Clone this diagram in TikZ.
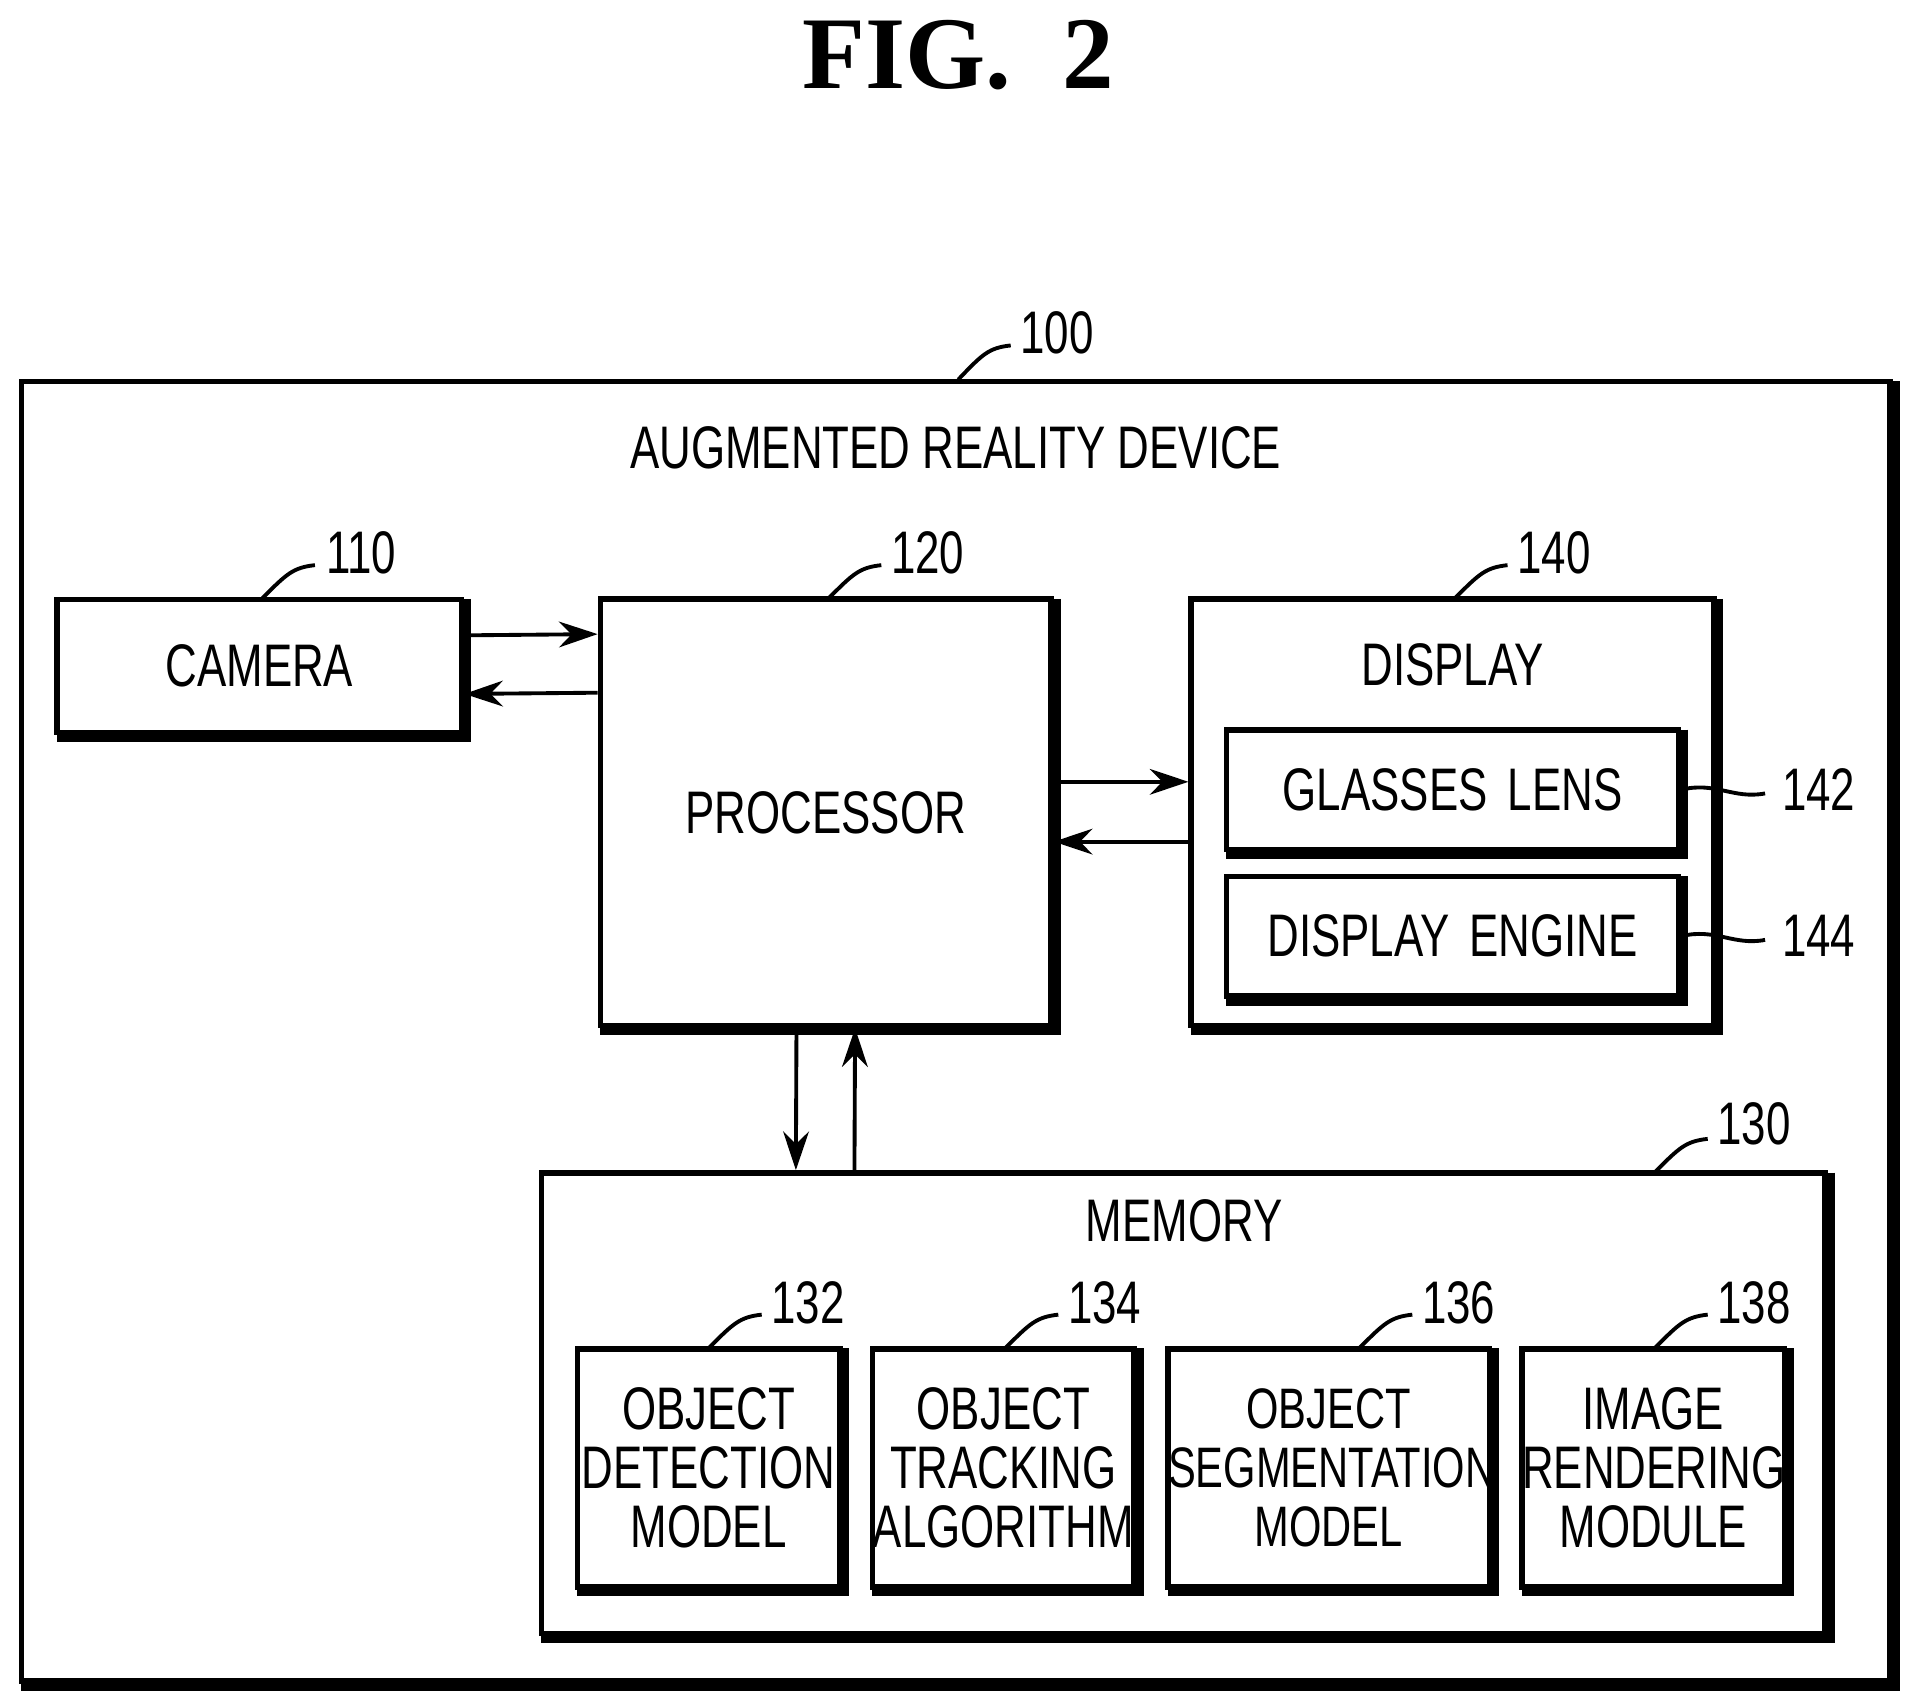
\documentclass[tikz,border=0pt]{standalone}
\usepackage{fontspec}
\setmainfont[FakeStretch=0.73]{Liberation Sans}
\newfontfamily\figfont{Liberation Serif}
\usetikzlibrary{calc, positioning, arrows.meta}

\tikzset{
  blk/.style={draw, line width=1.3pt, align=center, inner sep=0pt,
    font=\fontsize{14}{13.8}\selectfont},
  arr/.style={-{Stealth[length=9pt,width=6pt]}, line width=0.9pt},
  lead/.style={line width=0.9pt},
  num/.style={font=\fontsize{14}{16}\selectfont, inner sep=1pt}
}

\newcommand{\shadowbox}[1]{%
  \draw[line width=2pt] ($(#1.north east)+(2,2)$) -- ($(#1.south east)+(2,2)$) -- ($(#1.south west)+(2,2)$);}

\begin{document}
\begin{tikzpicture}[x=0.01cm,y=-0.01cm]
  \useasboundingbox (0,0) rectangle (1568,1398);

  \node[font=\figfont\bfseries\fontsize{24}{28}\selectfont] (fig) at (785,45) {FIG.\ \ 2};

  % device frame
  \node[blk, minimum width=15.3cm, minimum height=10.64cm] (dev) at (783,845) {};
  \shadowbox{dev}
  \node[blk, draw=none] (devlabel) at (783,367) {AUGMENTED REALITY DEVICE};

  % top row
  \node[blk, minimum width=3.31cm, minimum height=1.09cm] (camera) at (212.5,545.5) {CAMERA};
  \node[blk, minimum width=3.69cm, minimum height=3.49cm] (proc) at (676.5,665.5) {PROCESSOR};
  \node[blk, minimum width=4.28cm, minimum height=3.49cm] (disp) at (1190,665.5) {};
  \node[blk, draw=none] (displabel) at (1190,545) {DISPLAY};
  \node[blk, text width=3.70cm, minimum height=0.98cm] (lens) at (1190,647) {GLASSES LENS};
  \node[blk, text width=3.70cm, minimum height=0.98cm] (engine) at (1190,767) {DISPLAY ENGINE};
  \foreach \b in {camera,proc,disp,lens,engine} {\shadowbox{\b}}

  % memory
  \node[blk, minimum width=10.51cm, minimum height=3.77cm] (mem) at (969.5,1149.5) {};
  \node[blk, draw=none] (memlabel) at (970,1000) {MEMORY};
  \node[blk, text width=2.15cm, minimum height=1.95cm] (detect) at (580.5,1202.5) {OBJECT\\DETECTION\\MODEL};
  \node[blk, text width=2.14cm, minimum height=1.95cm] (track) at (822,1202.5) {OBJECT\\TRACKING\\ALGORITHM};
  \node[blk, text width=2.63cm, minimum height=1.95cm, font=\fontsize{13.3}{13.8}\selectfont] (segm) at (1088.5,1202.5) {OBJECT\\SEGMENTATION\\MODEL};
  \node[blk, text width=2.15cm, minimum height=1.95cm] (render) at (1354.5,1202.5) {IMAGE\\RENDERING\\MODULE};
  \foreach \b in {mem,detect,track,segm,render} {\shadowbox{\b}}

  % connectors
  \draw[arr] ($(camera.east)+(0,-25)$) -- ($(proc.west)+(0,-146)$);
  \draw[arr] ($(proc.west)+(0,-98)$) -- ($(camera.east)+(0,23)$);
  \draw[arr] ($(proc.east)+(0,-25)$) -- ($(disp.west)+(0,-25)$);
  \draw[arr] ($(disp.west)+(0,24)$) -- ($(proc.east)+(0,24)$);
  \draw[arr] ($(proc.south)+(-24,0)$) -- (mem.north -| 652,0);
  \draw[arr] (mem.north -| 700,0) -- ($(proc.south)+(24,0)$);

  % reference numerals
  \node[num] (n100) at (866,273) {100};
  \draw[lead] (785,311) .. controls (805,290) and (810,285) .. (828,283);
  \node[num] (n110) at (296,453) {110};
  \draw[lead] (215,490) .. controls (235,470) and (240,465) .. (258,463);
  \node[num] (n120) at (760,453) {120};
  \draw[lead] (679,490) .. controls (699,470) and (704,465) .. (722,463);
  \node[num] (n140) at (1273,453) {140};
  \draw[lead] (1192,490) .. controls (1212,470) and (1217,465) .. (1235,463);
  \node[num] (n142) at (1490,647) {142};
  \draw[lead] (lens.east) .. controls (1405,640) and (1420,655) .. (1446,650);
  \node[num] (n144) at (1490,767) {144};
  \draw[lead] (engine.east) .. controls (1405,760) and (1420,775) .. (1446,770);
  \node[num] (n130) at (1437,921) {130};
  \draw[lead] (1356,960) .. controls (1376,940) and (1381,935) .. (1399,933);
  \node[num] (n132) at (662,1067) {132};
  \draw[lead] (581,1104) .. controls (601,1084) and (606,1079) .. (624,1077);
  \node[num] (n134) at (905,1067) {134};
  \draw[lead] (824,1104) .. controls (844,1084) and (849,1079) .. (867,1077);
  \node[num] (n136) at (1195,1067) {136};
  \draw[lead] (1114,1104) .. controls (1134,1084) and (1139,1079) .. (1157,1077);
  \node[num] (n138) at (1437,1067) {138};
  \draw[lead] (1356,1104) .. controls (1376,1084) and (1381,1079) .. (1399,1077);
\end{tikzpicture}
\end{document}
